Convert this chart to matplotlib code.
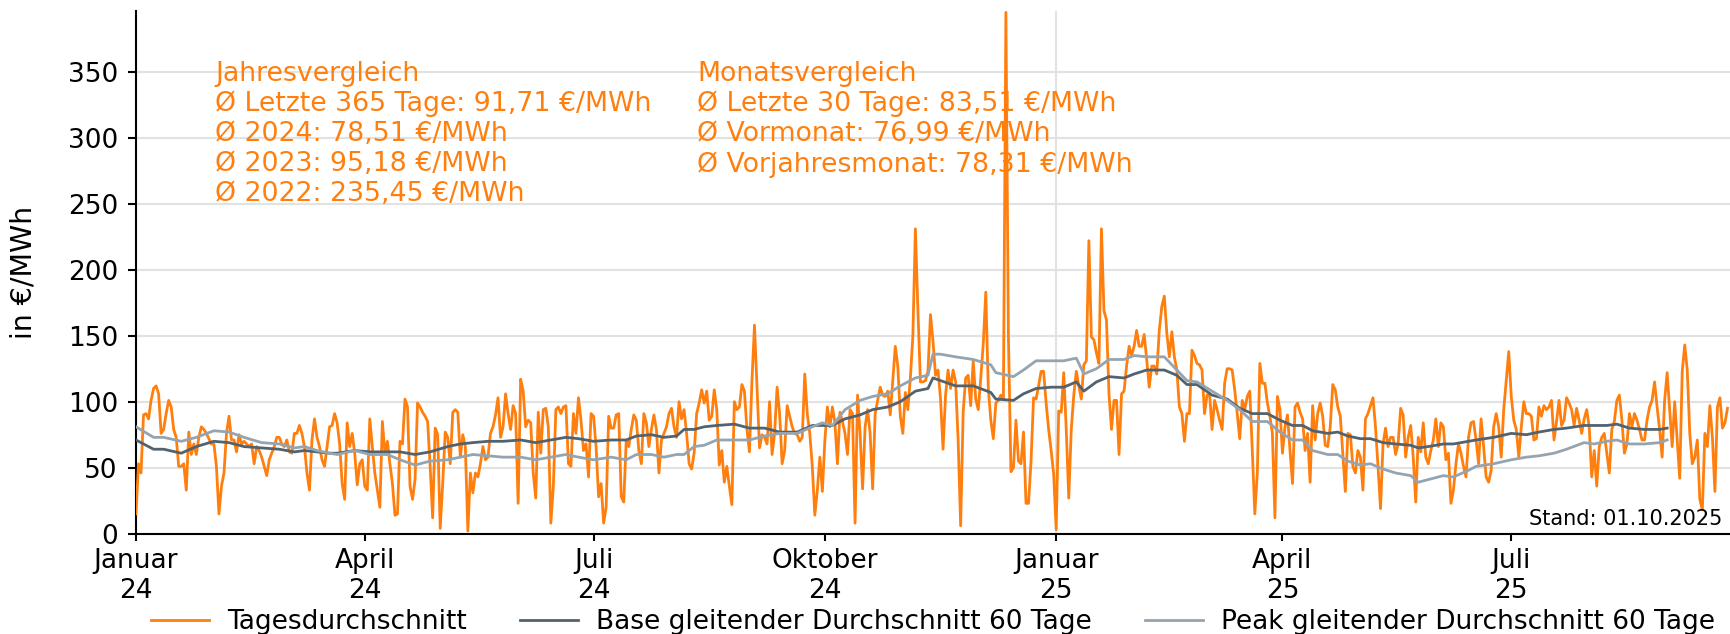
import matplotlib
matplotlib.use("Agg")
import matplotlib.pyplot as plt
import matplotlib.dates as mdates
from matplotlib.ticker import FuncFormatter
import numpy as np
import pandas as pd

# Tagesdurchschnitt in EUR/MWh, one list per month
jan24 = [15, 53, 46, 90, 91, 87, 101, 110, 112, 106, 76, 79, 91, 101, 96, 79, 73, 51, 51, 53,
         33, 77, 60, 68, 60, 73, 81, 79, 76, 72, 68]
feb24 = [68, 51, 15, 36, 46, 76, 89, 71, 71, 62, 75, 68, 70, 68, 66, 68, 53, 66, 63, 58,
         51, 44, 56, 61, 66, 73, 73, 68, 66]
mar24 = [71, 62, 61, 76, 76, 82, 76, 66, 46, 33, 71, 87, 73, 66, 56, 51, 66, 81, 82, 91,
         84, 68, 38, 26, 84, 66, 76, 61, 37, 53, 56]
apr24 = [36, 33, 87, 66, 46, 33, 20, 85, 61, 70, 53, 38, 14, 15, 70, 68, 102, 96, 36, 26,
         41, 99, 96, 92, 89, 85, 51, 12, 80, 75]
may24 = [4, 38, 77, 73, 53, 92, 94, 92, 58, 75, 66, 2, 46, 31, 46, 43, 53, 66, 56, 58,
         76, 81, 90, 103, 73, 81, 106, 91, 79, 97, 91]
jun24 = [23, 117, 108, 81, 86, 84, 46, 27, 92, 61, 94, 95, 81, 8, 36, 94, 96, 91, 96, 97,
         53, 51, 91, 76, 103, 86, 63, 68, 43, 91]
jul24 = [89, 66, 28, 38, 8, 20, 89, 80, 80, 90, 91, 28, 24, 71, 66, 79, 90, 86, 63, 53,
         91, 84, 66, 79, 90, 79, 46, 71, 76, 81, 91]
aug24 = [95, 81, 73, 100, 87, 94, 76, 53, 49, 61, 91, 99, 109, 99, 108, 86, 89, 109, 94, 52,
         63, 39, 51, 36, 22, 100, 94, 96, 113, 108, 79]
sep24 = [62, 116, 158, 111, 65, 75, 73, 68, 100, 60, 76, 111, 91, 53, 63, 97, 89, 81, 76, 75,
         70, 73, 121, 91, 76, 51, 14, 33, 58, 32]
oct24 = [71, 96, 81, 96, 84, 53, 92, 85, 76, 60, 94, 91, 8, 105, 76, 34, 81, 94, 76, 34,
         91, 101, 111, 105, 104, 108, 90, 116, 142, 127, 89]
nov24 = [76, 107, 94, 118, 150, 231, 170, 115, 115, 116, 123, 166, 146, 120, 124, 102, 64, 105, 124, 110,
         124, 115, 71, 6, 92, 118, 120, 97, 131, 102]
dec24 = [94, 118, 144, 183, 110, 86, 72, 99, 101, 105, 102, 395, 150, 47, 50, 86, 55, 53, 77, 23,
         23, 55, 103, 102, 112, 123, 123, 99, 79, 63, 45]
jan25 = [3, 93, 92, 122, 79, 27, 79, 105, 123, 112, 102, 128, 131, 222, 149, 147, 137, 129, 231, 169,
         162, 106, 79, 101, 101, 60, 106, 108, 127, 142, 135]
feb25 = [142, 154, 142, 142, 151, 132, 111, 127, 127, 121, 154, 172, 180, 152, 134, 153, 134, 124, 96, 91,
         70, 91, 91, 139, 135, 129, 128, 124]
mar25 = [91, 105, 106, 79, 101, 94, 86, 79, 114, 125, 125, 124, 109, 91, 72, 101, 94, 104, 108, 63,
         15, 46, 129, 114, 114, 99, 89, 76, 12, 104, 94]
apr25 = [61, 81, 90, 63, 38, 96, 99, 92, 87, 63, 76, 39, 97, 71, 91, 99, 89, 67, 66, 81,
         113, 109, 96, 89, 61, 32, 76, 75, 51, 46]
may25 = [63, 58, 33, 87, 91, 97, 103, 81, 51, 19, 68, 80, 66, 73, 73, 60, 68, 95, 90, 58,
         73, 82, 58, 24, 73, 62, 84, 58, 53, 63, 71]
jun25 = [87, 66, 84, 81, 56, 61, 23, 33, 53, 68, 61, 51, 43, 73, 84, 85, 71, 53, 87, 66,
         43, 39, 48, 81, 91, 81, 58, 94, 116, 138]
jul25 = [104, 86, 79, 58, 81, 100, 91, 91, 89, 71, 72, 96, 89, 97, 94, 96, 101, 71, 85, 101,
         82, 86, 103, 99, 94, 82, 95, 86, 76, 87, 94]
aug25 = [81, 43, 63, 36, 66, 73, 76, 61, 46, 79, 85, 101, 105, 86, 61, 68, 91, 81, 91, 86,
         79, 71, 71, 86, 96, 101, 115, 96, 79, 58, 101]
sep25 = [122, 94, 66, 100, 71, 42, 123, 143, 124, 76, 53, 58, 71, 26, 18, 76, 66, 97, 73, 32,
         96, 103, 80, 84, 95]

months = [("2024-01-01", jan24), ("2024-02-01", feb24), ("2024-03-01", mar24), ("2024-04-01", apr24),
          ("2024-05-01", may24), ("2024-06-01", jun24), ("2024-07-01", jul24), ("2024-08-01", aug24),
          ("2024-09-01", sep24), ("2024-10-01", oct24), ("2024-11-01", nov24), ("2024-12-01", dec24),
          ("2025-01-01", jan25), ("2025-02-01", feb25), ("2025-03-01", mar25), ("2025-04-01", apr25),
          ("2025-05-01", may25), ("2025-06-01", jun25), ("2025-07-01", jul25), ("2025-08-01", aug25),
          ("2025-09-01", sep25)]

# gleitende Durchschnitte (60 Tage), read roughly weekly; days since 2024-01-01
ma_day = [0, 7, 11, 18, 24, 31, 37, 43, 50, 57, 63, 67, 72, 77, 80, 87, 93, 100, 105, 111,
          117, 124, 129, 134, 140, 146, 153, 159, 165, 171, 176, 182, 189, 195, 199, 205, 210, 215, 218, 222,
          226, 231, 238, 244, 250, 256, 263, 269, 273, 277, 282, 288, 293, 299, 304, 310, 315, 317, 320, 326,
          333, 340, 342, 349, 353, 358, 364, 369, 374, 377, 382, 387, 393, 397, 402, 409, 414, 418, 422, 428,
          434, 439, 444, 450, 455, 460, 464, 468, 474, 478, 482, 487, 491, 496, 501, 507, 510, 514, 520, 524,
          530, 533, 540, 547, 553, 558, 564, 569, 576, 580, 585, 589, 594, 600, 606, 609]
base_ma = [71, 64, 64, 61, 66, 70, 69, 66, 65, 64, 62, 63, 62, 61, 61, 63, 62, 62, 62, 60,
           62, 66, 68, 69, 70, 70, 71, 69, 71, 73, 72, 70, 71, 71, 74, 75, 73, 74, 79, 79,
           81, 82, 83, 80, 80, 77, 77, 82, 82, 82, 87, 90, 94, 96, 100, 108, 110, 118, 116, 112,
           112, 107, 102, 101, 106, 110, 111, 111, 115, 108, 115, 119, 118, 121, 124, 124, 120, 113, 113, 105,
           102, 95, 91, 91, 86, 82, 82, 78, 76, 77, 74, 72, 72, 69, 68, 67, 65, 66, 68, 68,
           70, 71, 73, 76, 75, 77, 79, 80, 82, 82, 82, 83, 80, 79, 79, 80]
peak_ma = [81, 73, 73, 70, 73, 78, 77, 73, 69, 68, 65, 66, 63, 61, 60, 63, 60, 60, 56, 52,
           55, 56, 58, 60, 59, 58, 58, 56, 58, 60, 58, 56, 58, 56, 60, 60, 58, 60, 60, 66,
           67, 71, 71, 71, 74, 76, 76, 81, 84, 82, 94, 101, 104, 106, 112, 118, 120, 136, 136, 134,
           132, 128, 122, 119, 124, 131, 131, 131, 133, 121, 125, 132, 132, 135, 134, 134, 124, 116, 115, 108,
           101, 94, 85, 85, 77, 71, 71, 63, 60, 60, 55, 52, 53, 49, 46, 44, 39, 41, 44, 43,
           48, 51, 53, 56, 58, 59, 61, 64, 69, 68, 70, 71, 68, 68, 69, 71]

MONATE = {1: "Januar", 4: "April", 7: "Juli", 10: "Oktober"}

jahres_text = ("Jahresvergleich\n"
               "Ø Letzte 365 Tage: 91,71 €/MWh\n"
               "Ø 2024: 78,51 €/MWh\n"
               "Ø 2023: 95,18 €/MWh\n"
               "Ø 2022: 235,45 €/MWh")
monats_text = ("Monatsvergleich\n"
               "Ø Letzte 30 Tage: 83,51 €/MWh\n"
               "Ø Vormonat: 76,99 €/MWh\n"
               "Ø Vorjahresmonat: 78,31 €/MWh")

ORANGE = '#ff7f0e'
BASE_COL = '#52626e'
PEAK_COL = '#95a4b1'
FS = 19


def main():
    dates = []
    prices = []
    for start, vals in months:
        dates.extend(pd.date_range(start, periods=len(vals), freq='D'))
        prices.extend(vals)
    dates = pd.DatetimeIndex(dates)

    start = pd.Timestamp("2024-01-01")
    ma_dates = start + pd.to_timedelta(ma_day, unit='D')

    fig = plt.figure(figsize=(17.3, 6.34), dpi=100)
    ax = fig.add_axes([0.0786, 0.1582, 0.9214, 0.8244])

    ax.plot(dates, prices, color=ORANGE, lw=2.0, label='Tagesdurchschnitt', zorder=3)
    ax.plot(ma_dates, base_ma, color=BASE_COL, lw=2.0, label='Base gleitender Durchschnitt 60 Tage', zorder=4)
    ax.plot(ma_dates, peak_ma, color=PEAK_COL, lw=2.0, label='Peak gleitender Durchschnitt 60 Tage', zorder=5)

    ax.set_ylim(0, 396)
    ax.set_xlim(start, start + pd.Timedelta(days=634))
    ax.set_yticks(np.arange(0, 351, 50))

    ax.xaxis.set_major_locator(mdates.MonthLocator(bymonth=(1, 4, 7, 10)))
    ax.xaxis.set_major_formatter(FuncFormatter(
        lambda x, pos: f"{MONATE[mdates.num2date(x).month]}\n{mdates.num2date(x).year % 100}"))

    ax.yaxis.grid(True, color='#e2e2e2', lw=1.5, zorder=0)
    ax.axvline(pd.Timestamp("2025-01-01"), color='#e2e2e2', lw=1.5, zorder=0)
    ax.set_axisbelow(True)

    for s in ['top', 'right']:
        ax.spines[s].set_visible(False)
    for s in ['left', 'bottom']:
        ax.spines[s].set_linewidth(1.5)
        ax.spines[s].set_color('black')

    ax.tick_params(axis='y', labelsize=FS, length=6, width=1.5, pad=7)
    ax.tick_params(axis='x', labelsize=FS, length=5, width=1.5, pad=5)

    ax.set_ylabel('in €/MWh', fontsize=20.5)
    ax.yaxis.set_label_coords(-0.0615, 0.5)

    ax.text(0.0496, 0.905, jahres_text, transform=ax.transAxes, fontsize=19.3, color=ORANGE,
            va='top', ha='left', linespacing=1.2)
    ax.text(0.352, 0.905, monats_text, transform=ax.transAxes, fontsize=19.3, color=ORANGE,
            va='top', ha='left', linespacing=1.2)
    ax.text(0.995, 0.0166, 'Stand: 01.10.2025', transform=ax.transAxes, fontsize=15,
            ha='right', va='baseline')

    # legend sits right at the lower figure edge, as in the original
    ax.legend(loc='upper center', bbox_to_anchor=(0.5, -0.124), ncol=3, frameon=False,
              fontsize=FS, handlelength=2.2, handletextpad=0.7, columnspacing=2.0,
              borderaxespad=0)

    fig.savefig('out.png', dpi=100)


if __name__ == "__main__":
    main()
